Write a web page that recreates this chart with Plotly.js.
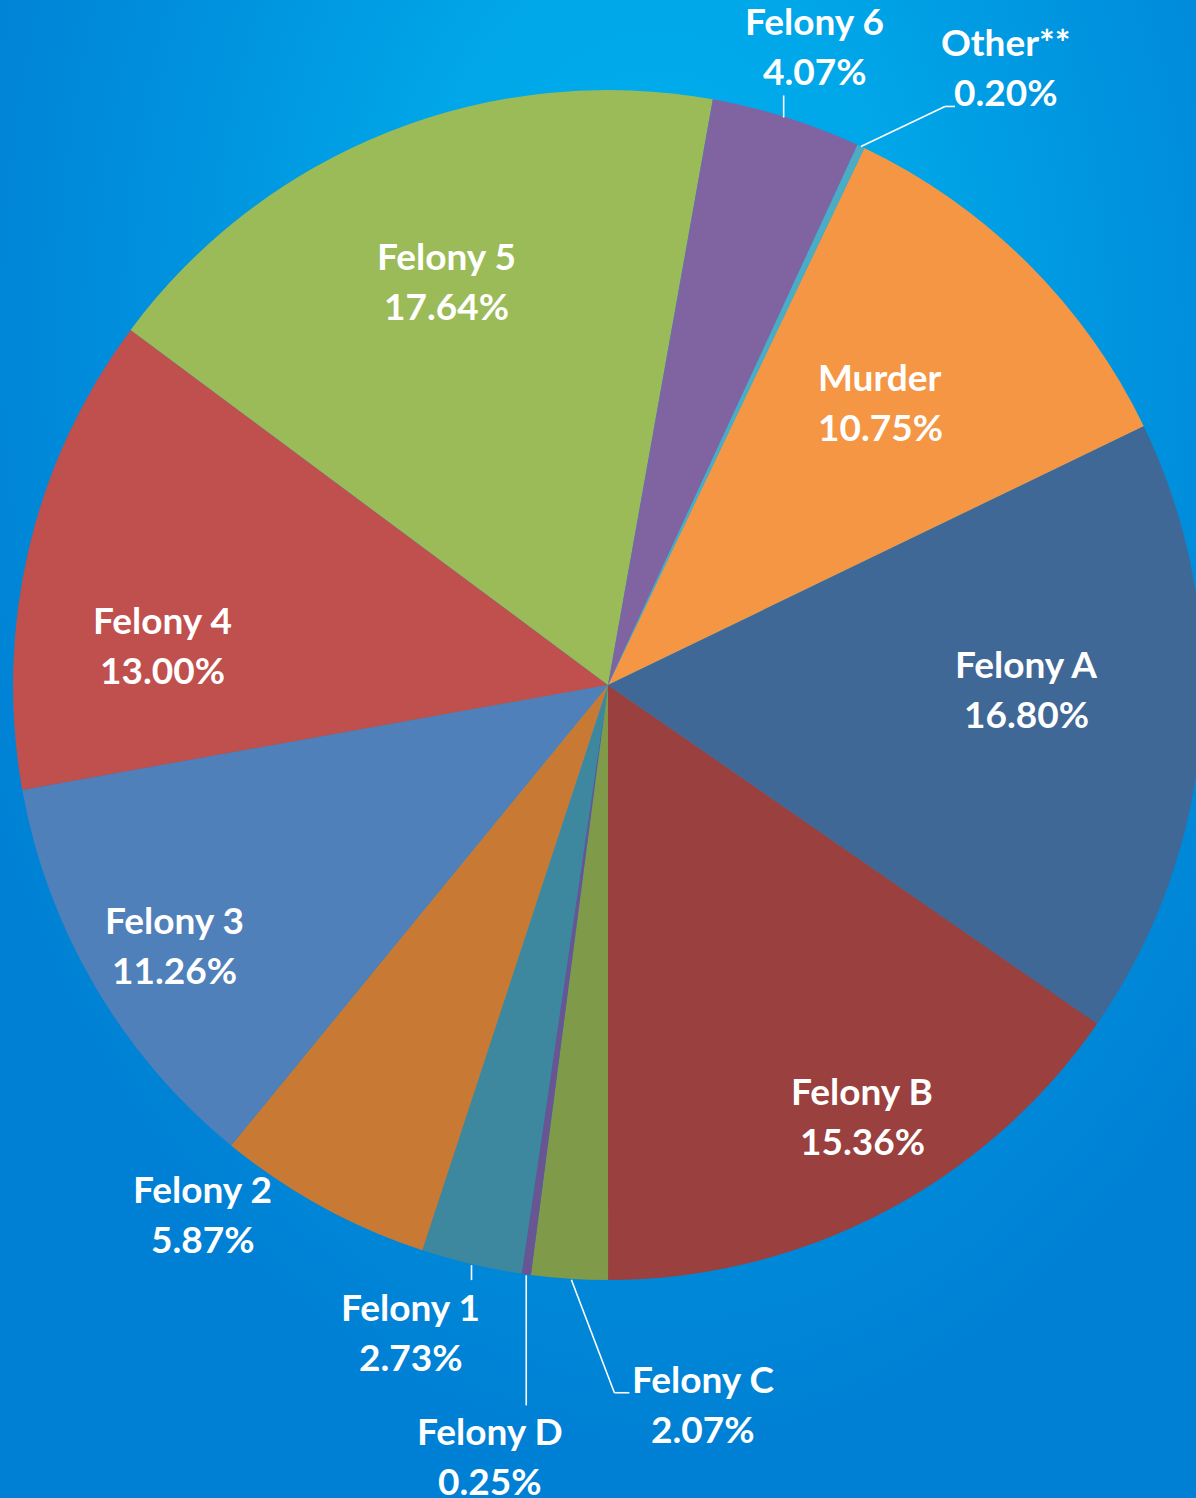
<!DOCTYPE html>
<html>
<head>
<meta charset="utf-8">
<script src="https://cdn.plot.ly/plotly-3.0.1.min.js"></script>
<style>
html, body { margin:0; padding:0; width:1196px; height:1498px; overflow:hidden; }
body {
  background:
    radial-gradient(ellipse 62% 75% at 55% 22%, #00B2F0 0%, #00A6E8 35%, #0092DE 65%, #0080D4 100%);
}
#chart { width:1216px; height:1498px; }
</style>
</head>
<body>
<div id="chart"></div>
<script>
// ---- data ----
const categories = ["Murder","Felony A","Felony B","Felony C","Felony D","Felony 1","Felony 2","Felony 3","Felony 4","Felony 5","Felony 6","Other**"];
const percents   = [10.75, 16.80, 15.36, 2.07, 0.25, 2.73, 5.87, 11.26, 13.00, 17.64, 4.07, 0.20];
const valueLabels = ["10.75%","16.80%","15.36%","2.07%","0.25%","2.73%","5.87%","11.26%","13.00%","17.64%","4.07%","0.20%"];

// ---- style / layout config ----
const colors = ["#F59645","#406896","#9A403E","#7F9A48","#6A5593","#3D889E","#C87A35","#4F80BA","#BF504D","#9BBB59","#8064A1","#4BACC6"];
const W = 1216, H = 1498;
const CX = 608, CY = 685, R = 595;
const ROT = 25.52;
// inside labels: [radius fraction, angle nudge in degrees]
const insidePlace = {
  "Murder":[0.659,-0.9], "Felony A":[0.703,-3.8], "Felony B":[0.842,-2.85],
  "Felony 3":[0.85,-0.66], "Felony 4":[0.752,-8.25], "Felony 5":[0.729,-0.2]
};
// outside labels: text offset from slice edge point, leader points (relative to edge point)
const outsidePlace = {
  "Felony 6":{t:[28,-70], l:[[-3,0],[-3,-22]]},
  "Other**":{t:[145,-78], l:[[0,0],[84,-40],[94,-40]]},
  "Felony C":{t:[134,126], l:[[2,1],[45,114],[60,114]]},
  "Felony D":{t:[-36,183], l:[[0,1],[0,131]]},
  "Felony 1":{t:[-61,69], l:[[0,1],[0,16]]},
  "Felony 2":{t:[-119,8], l:[]}
};
const FONT = {family:"Lato, 'Open Sans', sans-serif", size:37, color:"#FFFFFF", weight:700};
const HALF = 25;
const YSHIFT = -1.5;

const px2x = px => px / W;
const py2y = py => 1 - py / H;

const total = percents.reduce((a,b)=>a+b,0);
const annotations = [];
const shapes = [];
let cum = 0;
percents.forEach((v,i) => {
  const start = ROT + cum / total * 360;
  cum += v;
  const mid = start + v / total * 180;
  const name = categories[i];
  let cx, cy;
  if (insidePlace[name]) {
    const [f, nudge] = insidePlace[name];
    const a = (mid + nudge) * Math.PI / 180;
    cx = CX + f * R * Math.sin(a);
    cy = CY - f * R * Math.cos(a);
  } else {
    const o = outsidePlace[name];
    const a = mid * Math.PI / 180;
    const ex = CX + R * Math.sin(a), ey = CY - R * Math.cos(a);
    cx = ex + o.t[0]; cy = ey + o.t[1];
    for (let k = 0; k + 1 < o.l.length; k++) {
      shapes.push({type:"line", xref:"paper", yref:"paper",
        x0:px2x(ex+o.l[k][0]), y0:py2y(ey+o.l[k][1]),
        x1:px2x(ex+o.l[k+1][0]), y1:py2y(ey+o.l[k+1][1]),
        line:{color:"#FFFFFF", width:1.6}});
    }
  }
  [[name, cy-HALF+YSHIFT],[valueLabels[i], cy+HALF+YSHIFT]].forEach(([txt, yy]) => {
    annotations.push({text:txt, xref:"paper", yref:"paper", x:px2x(cx), y:py2y(yy),
      xanchor:"center", yanchor:"middle", showarrow:false, font:FONT});
  });
});

const domH = 2 * R / H;
const domC = 1 - CY / H;
const trace = {
  type:"pie",
  labels:categories,
  values:percents,
  sort:false,
  direction:"clockwise",
  rotation:ROT,
  textinfo:"none",
  hoverinfo:"label+percent",
  marker:{colors:colors, line:{width:0}},
  domain:{x:[0,1], y:[domC - domH/2, domC + domH/2]},
  showlegend:false
};
const layout = {
  width:W, height:H,
  margin:{l:0,r:0,t:0,b:0,pad:0},
  paper_bgcolor:"rgba(0,0,0,0)",
  plot_bgcolor:"rgba(0,0,0,0)",
  showlegend:false,
  annotations:annotations,
  shapes:shapes
};
Plotly.newPlot("chart",[trace],layout,{displayModeBar:false, staticPlot:true});
</script>
</body>
</html>
